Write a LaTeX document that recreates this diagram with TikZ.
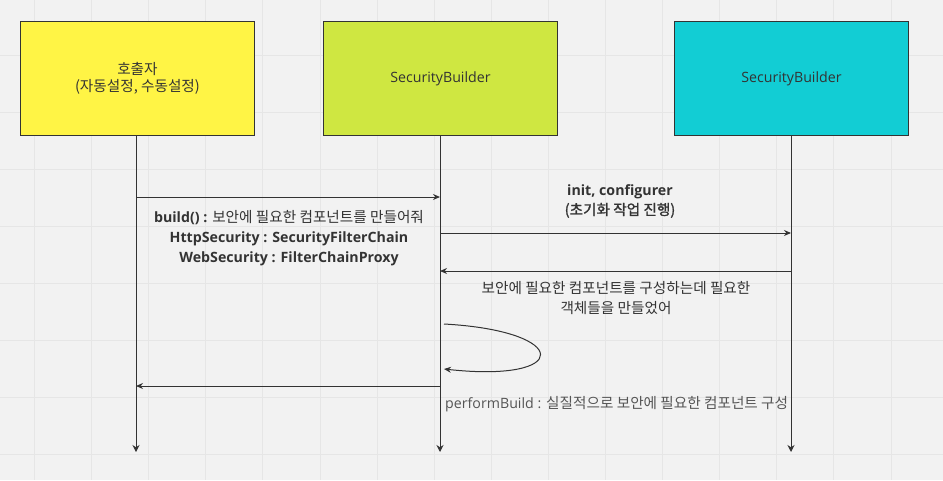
\documentclass[tikz,border=0pt]{standalone}
\usepackage{fontspec}
\setmainfont{Open Sans}
\newfontfamily\krfont{Noto Sans CJK KR}[AutoFakeBold=1.2,Scale=1.03]
\newcommand{\kr}[1]{{\krfont #1}}
\usetikzlibrary{arrows.meta}
\definecolor{bg}{HTML}{F2F2F2}
\definecolor{gridc}{HTML}{E6E6E6}
\definecolor{ylw}{HTML}{FFF445}
\definecolor{lime}{HTML}{CFE741}
\definecolor{teal}{HTML}{12CDD4}
\definecolor{ink}{HTML}{333333}
\definecolor{soft}{HTML}{555555}
\begin{document}
\begin{tikzpicture}[x=1pt,y=-1pt,
  actor/.style={draw=ink,line width=0.9pt,minimum width=234pt,minimum height=114pt,anchor=north west,inner sep=0pt,align=center,text=ink,font=\fontsize{14.2}{17.5}\selectfont},
  life/.style={draw=ink,line width=1pt,-{Stealth[length=7pt,width=7pt]}},
  msg/.style={draw=ink,line width=1pt,-{Stealth[length=7pt,width=6pt]}},
  lbl/.style={text=ink,align=center,inner sep=0pt,font=\fontsize{14.2}{20}\selectfont}]
\fill[bg] (0,0) rectangle (943,480);
\useasboundingbox (0,0) rectangle (943,480);
\foreach \gx in {34.3,91.4,...,943} {\draw[gridc,line width=0.6pt] (\gx,0) -- (\gx,480);}
\foreach \gy in {55,112,...,480} {\draw[gridc,line width=0.6pt] (0,\gy) -- (943,\gy);}

\node[actor,fill=ylw] (caller) at (20,21) {\kr{호출자}\\\kr{(자동설정, 수동설정)}};
\node[actor,fill=lime] (sb1) at (323,21) {SecurityBuilder};
\node[actor,fill=teal] (sb2) at (674,21) {SecurityBuilder};

\coordinate (e1) at (136,452);
\coordinate (e2) at (440,452);
\coordinate (e3) at (791,452);
\draw[life] (caller.south -| e1) -- (e1);
\draw[life] (sb1.south -| e2) -- (e2);
\draw[life] (sb2.south -| e3) -- (e3);

\coordinate (m1a) at (136,197); \coordinate (m1b) at (440,197);
\coordinate (m2a) at (440,233); \coordinate (m2b) at (791,233);
\coordinate (m3a) at (791,271); \coordinate (m3b) at (440,271);
\coordinate (m4a) at (444,324); \coordinate (m4b) at (444,369);
\coordinate (m5a) at (440,386); \coordinate (m5b) at (136,386);

\draw[msg] (m1a) -- (m1b);
\draw[msg] (m2a) -- (m2b);
\draw[msg] (m3a) -- (m3b);
\draw[msg] (m4a) .. controls (572,331) and (572,383) .. (m4b);
\draw[msg] (m5a) -- (m5b);

\node[lbl] (t1) at (289,238) {\textbf{build() :} \kr{보안에 필요한 컴포넌트를 만들어줘}\\\textbf{HttpSecurity : SecurityFilterChain}\\\textbf{WebSecurity : FilterChainProxy}};
\node[lbl] (t2) at (620,201) {\textbf{init, configurer}\\\kr{\bfseries(초기화 작업 진행)}};
\node[lbl] (t3) at (616,298) {\kr{보안에 필요한 컴포넌트를 구성하는데 필요한}\\\kr{객체들을 만들었어}};
\node[lbl,text=soft,anchor=west] (t4) at (445,404) {performBuild : \kr{실질적으로 보안에 필요한 컴포넌트 구성}};
\end{tikzpicture}
\end{document}
